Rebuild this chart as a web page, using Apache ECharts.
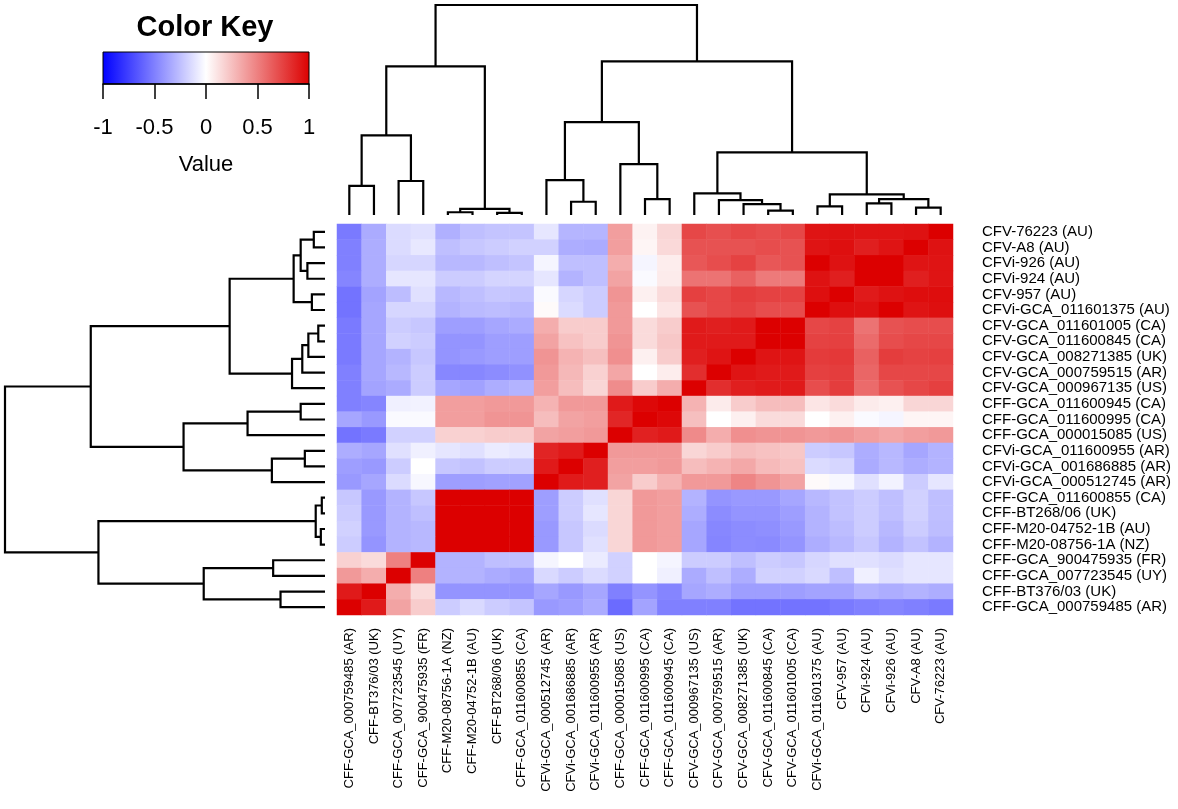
<!DOCTYPE html>
<html><head><meta charset="utf-8">
<script src="https://cdn.jsdelivr.net/npm/echarts@6/dist/echarts.min.js"></script>
<style>html,body{margin:0;padding:0;background:#fff}#c{width:1178px;height:809px}</style>
</head><body><div id="c"></div>
<script>
// Row labels, top to bottom (columns use the reversed order)
const rowLabels = [
  'CFV-76223 (AU)','CFV-A8 (AU)','CFVi-926 (AU)','CFVi-924 (AU)','CFV-957 (AU)',
  'CFVi-GCA_011601375 (AU)','CFV-GCA_011601005 (CA)','CFV-GCA_011600845 (CA)',
  'CFV-GCA_008271385 (UK)','CFV-GCA_000759515 (AR)','CFV-GCA_000967135 (US)',
  'CFF-GCA_011600945 (CA)','CFF-GCA_011600995 (CA)','CFF-GCA_000015085 (US)',
  'CFVi-GCA_011600955 (AR)','CFVi-GCA_001686885 (AR)','CFVi-GCA_000512745 (AR)',
  'CFF-GCA_011600855 (CA)','CFF-BT268/06 (UK)','CFF-M20-04752-1B (AU)',
  'CFF-M20-08756-1A (NZ)','CFF-GCA_900475935 (FR)','CFF-GCA_007723545 (UY)',
  'CFF-BT376/03 (UK)','CFF-GCA_000759485 (AR)'
];
const colLabels = rowLabels.slice().reverse();

// Correlation values: one array per row (top to bottom), columns left to right
const r00 = [-0.52,-0.33,-0.14,-0.12,-0.31,-0.25,-0.23,-0.23,-0.10,-0.29,-0.29,0.38,0.05,0.16,0.72,0.69,0.72,0.70,0.72,0.92,0.93,0.92,0.92,0.93,1.00];
const r01 = [-0.50,-0.32,-0.14,-0.09,-0.25,-0.22,-0.20,-0.18,-0.18,-0.32,-0.33,0.38,0.04,0.15,0.68,0.68,0.68,0.70,0.68,0.92,0.94,0.88,0.92,1.00,0.93];
const r02 = [-0.50,-0.32,-0.16,-0.16,-0.28,-0.28,-0.25,-0.23,-0.04,-0.25,-0.25,0.32,-0.04,0.07,0.66,0.70,0.74,0.66,0.68,1.00,0.93,1.00,1.00,0.92,0.92];
const r03 = [-0.48,-0.32,-0.10,-0.10,-0.20,-0.20,-0.17,-0.17,-0.10,-0.30,-0.25,0.36,-0.02,0.08,0.55,0.55,0.62,0.52,0.52,0.93,0.88,1.00,1.00,0.88,0.92];
const r04 = [-0.55,-0.36,-0.26,-0.12,-0.28,-0.25,-0.22,-0.23,-0.02,-0.16,-0.20,0.42,0.06,0.14,0.75,0.72,0.76,0.74,0.74,0.94,1.00,0.90,0.93,0.95,0.95];
const r05 = [-0.55,-0.35,-0.16,-0.16,-0.30,-0.27,-0.26,-0.28,0.02,-0.14,-0.20,0.40,0.00,0.10,0.68,0.72,0.74,0.70,0.70,1.00,0.94,0.93,1.00,0.92,0.94];
const r06 = [-0.52,-0.35,-0.20,-0.22,-0.38,-0.38,-0.35,-0.33,0.32,0.20,0.20,0.40,0.14,0.20,0.90,0.88,0.90,1.00,1.00,0.72,0.74,0.55,0.68,0.70,0.70];
const r07 = [-0.52,-0.35,-0.18,-0.20,-0.42,-0.42,-0.38,-0.38,0.36,0.24,0.20,0.42,0.14,0.22,0.90,0.90,0.90,1.00,1.00,0.74,0.75,0.58,0.70,0.72,0.72];
const r08 = [-0.52,-0.35,-0.30,-0.22,-0.42,-0.40,-0.38,-0.38,0.42,0.30,0.25,0.44,0.06,0.20,0.88,0.92,1.00,0.92,0.92,0.77,0.78,0.62,0.76,0.74,0.75];
const r09 = [-0.50,-0.35,-0.28,-0.20,-0.47,-0.47,-0.45,-0.43,0.40,0.28,0.18,0.35,0.00,0.07,0.82,1.00,0.92,0.90,0.90,0.75,0.76,0.60,0.72,0.72,0.72];
const r10 = [-0.50,-0.36,-0.33,-0.20,-0.35,-0.37,-0.32,-0.30,0.38,0.26,0.16,0.45,0.20,0.32,1.00,0.82,0.88,0.90,0.90,0.70,0.76,0.58,0.68,0.72,0.75];
const r11 = [-0.50,-0.48,-0.06,-0.05,0.38,0.38,0.40,0.40,0.30,0.40,0.40,0.90,0.97,1.00,0.30,0.08,0.20,0.26,0.26,0.10,0.14,0.08,0.06,0.16,0.16];
const r12 = [-0.35,-0.40,-0.02,-0.02,0.38,0.38,0.42,0.42,0.26,0.36,0.38,0.85,1.00,0.97,0.25,0.00,0.06,0.14,0.14,0.00,0.06,-0.02,-0.04,0.04,0.04];
const r13 = [-0.55,-0.52,-0.18,-0.18,0.18,0.18,0.20,0.20,0.36,0.38,0.40,1.00,0.87,0.90,0.46,0.32,0.44,0.42,0.42,0.40,0.42,0.38,0.35,0.38,0.40];
const r14 = [-0.32,-0.35,-0.12,-0.06,-0.10,-0.12,-0.08,-0.10,0.86,0.90,1.00,0.40,0.40,0.40,0.16,0.20,0.26,0.24,0.22,-0.20,-0.22,-0.32,-0.28,-0.35,-0.30];
const r15 = [-0.38,-0.40,-0.20,0.00,-0.22,-0.24,-0.20,-0.20,0.90,1.00,0.88,0.38,0.38,0.40,0.26,0.30,0.34,0.27,0.24,-0.14,-0.16,-0.33,-0.28,-0.32,-0.30];
const r16 = [-0.40,-0.35,-0.14,-0.03,-0.38,-0.38,-0.37,-0.37,1.00,0.90,0.88,0.36,0.20,0.30,0.40,0.40,0.48,0.42,0.36,0.02,-0.03,-0.12,-0.05,-0.20,-0.10];
const r17 = [-0.22,-0.40,-0.30,-0.22,1.00,1.00,1.00,1.00,-0.38,-0.20,-0.12,0.16,0.40,0.38,-0.30,-0.42,-0.40,-0.40,-0.35,-0.28,-0.24,-0.20,-0.25,-0.18,-0.25];
const r18 = [-0.20,-0.40,-0.30,-0.25,1.00,1.00,1.00,1.00,-0.38,-0.20,-0.10,0.16,0.40,0.38,-0.32,-0.45,-0.42,-0.42,-0.38,-0.30,-0.24,-0.20,-0.25,-0.18,-0.25];
const r19 = [-0.18,-0.40,-0.30,-0.28,1.00,1.00,1.00,1.00,-0.40,-0.22,-0.14,0.16,0.40,0.38,-0.35,-0.47,-0.45,-0.44,-0.40,-0.30,-0.26,-0.20,-0.28,-0.20,-0.26];
const r20 = [-0.20,-0.42,-0.30,-0.28,1.00,1.00,1.00,1.00,-0.40,-0.22,-0.12,0.16,0.40,0.38,-0.35,-0.48,-0.45,-0.46,-0.42,-0.32,-0.28,-0.22,-0.30,-0.24,-0.30];
const r21 = [0.18,0.14,0.50,1.00,-0.30,-0.30,-0.25,-0.25,-0.04,0.00,-0.08,-0.18,0.00,-0.04,-0.20,-0.20,-0.25,-0.20,-0.22,-0.16,-0.12,-0.12,-0.14,-0.10,-0.10];
const r22 = [0.40,0.32,1.00,0.50,-0.30,-0.30,-0.33,-0.36,-0.15,-0.20,-0.14,-0.18,0.00,-0.06,-0.33,-0.25,-0.32,-0.18,-0.18,-0.15,-0.25,-0.06,-0.12,-0.10,-0.10];
const r23 = [0.90,1.00,0.32,0.14,-0.42,-0.42,-0.42,-0.42,-0.35,-0.40,-0.35,-0.50,-0.42,-0.48,-0.35,-0.32,-0.38,-0.38,-0.38,-0.36,-0.36,-0.30,-0.32,-0.30,-0.32];
const r24 = [1.00,0.90,0.36,0.20,-0.20,-0.15,-0.20,-0.23,-0.40,-0.38,-0.33,-0.58,-0.36,-0.50,-0.50,-0.50,-0.55,-0.55,-0.55,-0.55,-0.52,-0.50,-0.48,-0.50,-0.52];
const valueRows = [r00,r01,r02,r03,r04,r05,r06,r07,r08,r09,r10,r11,r12,r13,r14,r15,r16,r17,r18,r19,r20,r21,r22,r23,r24];

// Dendrogram merges (hclust style, leaves = -(column position+1)), relative height
const merges = [
  [-1,-2,0.139],[-3,-4,0.162],[1,2,0.379],[-5,-6,0.013],[-7,-8,0.010],[4,5,0.029],
  [3,6,0.708],[-10,-11,0.063],[-9,8,0.166],[-13,-14,0.076],[-12,10,0.242],[9,11,0.442],
  [-18,-19,0.021],[-17,13,0.052],[-16,14,0.071],[-15,15,0.103],[-20,-21,0.041],
  [-22,-23,0.055],[-24,-25,0.035],[18,19,0.076],[17,20,0.098],[16,21,0.298],
  [12,22,0.732],[7,23,1.0]
];
const keyTicks = [-1, -0.5, 0, 0.5, 1];

const FONT = 'Liberation Sans, Arial, Helvetica, sans-serif';
const n = rowLabels.length;

const heatData = [];
valueRows.forEach((row, r) => row.forEach((v, p) => heatData.push([p, r, v])));

function dendroSegments() {
  const pos = [], hgt = [], segs = [];
  const get = ref => ref < 0 ? [-ref - 1, 0] : [pos[ref - 1], hgt[ref - 1]];
  merges.forEach(([a, b, h], i) => {
    const [xa, ha] = get(a), [xb, hb] = get(b);
    segs.push([[xa, ha], [xa, h], [xb, h], [xb, hb]]);
    pos[i] = (xa + xb) / 2; hgt[i] = h;
  });
  return segs;
}
const segs = dendroSegments();

const chart = echarts.init(document.getElementById('c'));
chart.setOption({
  animation: false,
  backgroundColor: '#fff',
  title: {
    text: 'Color Key', left: 200, top: 8, textAlign: 'center',
    textStyle: { fontFamily: FONT, fontSize: 29, fontWeight: 'bold', color: '#000' }
  },
  grid: [
    { left: 337, top: 224, width: 616, height: 391 },
    { left: 337, top: 5, width: 616, height: 210 },
    { left: 5, top: 224, width: 320, height: 391 },
    { left: 103, top: 52, width: 206, height: 32, show: true, borderColor: '#000', borderWidth: 1,
      backgroundColor: { type: 'linear', x: 0, y: 0, x2: 1, y2: 0,
        colorStops: [{ offset: 0, color: '#0000ff' }, { offset: 0.5, color: '#ffffff' }, { offset: 1, color: '#dc0000' }] } }
  ],
  xAxis: [
    { type: 'category', gridIndex: 0, data: colLabels, position: 'bottom',
      axisLine: { show: false }, axisTick: { show: false }, splitLine: { show: false },
      axisLabel: { rotate: 90, margin: 13, fontSize: 13, fontFamily: FONT, color: '#000', interval: 0 } },
    { type: 'value', gridIndex: 1, min: -0.5, max: n - 0.5, show: false },
    { type: 'value', gridIndex: 2, min: 0, max: 1, inverse: true, show: false },
    { type: 'value', gridIndex: 3, min: -1, max: 1, interval: 0.5, position: 'bottom',
      axisLine: { show: true, lineStyle: { color: '#000', width: 1.5 } },
      axisTick: { show: true, length: 15, lineStyle: { color: '#000', width: 1.5 } },
      splitLine: { show: false },
      axisLabel: { margin: 33, fontSize: 22, fontFamily: FONT, color: '#000',
        customValues: keyTicks, formatter: v => String(v) },
      name: 'Value', nameLocation: 'middle', nameGap: 70,
      nameTextStyle: { fontSize: 22, fontFamily: FONT, color: '#000' } }
  ],
  yAxis: [
    { type: 'category', gridIndex: 0, data: rowLabels, inverse: true, position: 'right',
      axisLine: { show: false }, axisTick: { show: false }, splitLine: { show: false },
      axisLabel: { margin: 29, fontSize: 15, fontFamily: FONT, color: '#000', interval: 0 } },
    { type: 'value', gridIndex: 1, min: 0, max: 1, show: false },
    { type: 'value', gridIndex: 2, min: -0.5, max: n - 0.5, show: false },
    { type: 'value', gridIndex: 3, min: 0, max: 1, show: false }
  ],
  visualMap: {
    show: false, type: 'continuous', min: -1, max: 1, seriesIndex: 0,
    inRange: { color: ['#0000ff', '#ffffff', '#dc0000'] }
  },
  series: [
    { type: 'heatmap', xAxisIndex: 0, yAxisIndex: 0, data: heatData,
      itemStyle: { borderWidth: 0 }, emphasis: { disabled: true } },
    { type: 'lines', coordinateSystem: 'cartesian2d', xAxisIndex: 1, yAxisIndex: 1, polyline: true,
      lineStyle: { color: '#000', width: 2.2, opacity: 1 }, silent: true,
      data: segs.map(s => ({ coords: s })) },
    { type: 'lines', coordinateSystem: 'cartesian2d', xAxisIndex: 2, yAxisIndex: 2, polyline: true,
      lineStyle: { color: '#000', width: 2.2, opacity: 1 }, silent: true,
      data: segs.map(s => ({ coords: s.map(([x, h]) => [h, x]) })) }
  ]
});
</script></body></html>
